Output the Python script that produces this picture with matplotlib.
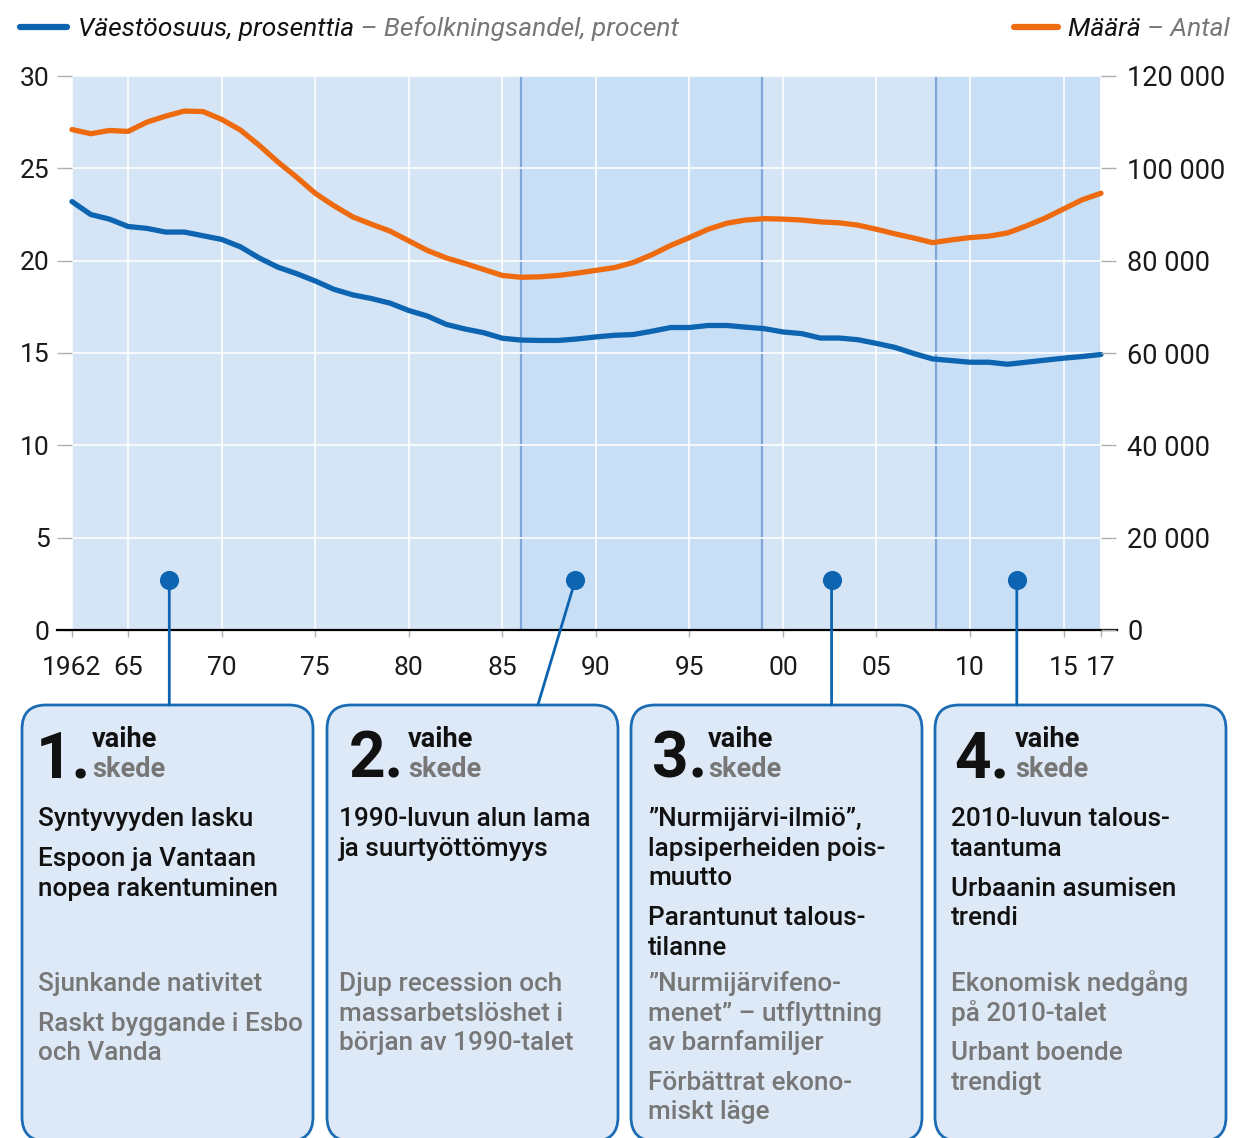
import matplotlib
matplotlib.use("Agg")
import matplotlib.pyplot as plt
from matplotlib.patches import FancyBboxPatch, ConnectionPatch
from matplotlib.ticker import FuncFormatter

# ---------------- data ----------------
years = list(range(1962, 2018))
share_pct = [23.2, 22.5, 22.25, 21.85, 21.75, 21.55, 21.55, 21.35, 21.15, 20.75,
             20.15, 19.65, 19.3, 18.9, 18.45, 18.15, 17.95, 17.7, 17.3, 17.0,
             16.55, 16.3, 16.1, 15.8, 15.7, 15.68, 15.68, 15.76, 15.87, 15.96,
             16.0, 16.18, 16.38, 16.38, 16.49, 16.49, 16.4, 16.32, 16.14, 16.05,
             15.81, 15.81, 15.72, 15.52, 15.3, 14.97, 14.68, 14.59, 14.5, 14.5,
             14.39, 14.5, 14.61, 14.72, 14.81, 14.92]
count = [108400, 107500, 108200, 108000, 110000, 111300, 112400, 112300, 110600, 108300,
         105000, 101400, 98100, 94600, 91900, 89500, 87900, 86400, 84300, 82200,
         80600, 79400, 78100, 76800, 76400, 76500, 76800, 77300, 77900, 78500,
         79600, 81300, 83300, 85000, 86800, 88100, 88800, 89100, 89000, 88800,
         88400, 88200, 87700, 86800, 85800, 84900, 83900, 84500, 85000, 85300,
         86000, 87500, 89200, 91200, 93200, 94600]

x_ticks = [1962, 1965, 1970, 1975, 1980, 1985, 1990, 1995, 2000, 2005, 2010, 2015, 2017]
x_labels = ["1962", "65", "70", "75", "80", "85", "90", "95", "00", "05", "10", "15", "17"]
left_ticks = [0, 5, 10, 15, 20, 25, 30]
right_ticks = [0, 20000, 40000, 60000, 80000, 100000, 120000]

phase_bounds = [1962, 1986, 1998.9, 2008.2, 2017]
phase_marker_year = [1967.2, 1988.9, 2002.6, 2012.5]
phase_connector_year = [1967.2, 1986.9, 2002.6, 2012.5]
marker_level = 2.7

legend_left_fi = "Väestöosuus, prosenttia"
legend_left_sv = " – Befolkningsandel, procent"
legend_right_fi = "Määrä "
legend_right_sv = "– Antal"

phase_numbers = ["1.", "2.", "3.", "4."]
phase_fi_word = "vaihe"
phase_sv_word = "skede"
fi_paragraphs = [
    ["Syntyvyyden lasku", "Espoon ja Vantaan\nnopea rakentuminen"],
    ["1990-luvun alun lama\nja suurtyöttömyys"],
    ["”Nurmijärvi-ilmiö”,\nlapsiperheiden pois-\nmuutto", "Parantunut talous-\ntilanne"],
    ["2010-luvun talous-\ntaantuma", "Urbaanin asumisen\ntrendi"],
]
sv_paragraphs = [
    ["Sjunkande nativitet", "Raskt byggande i Esbo\noch Vanda"],
    ["Djup recession och\nmassarbetslöshet i\nbörjan av 1990-talet"],
    ["”Nurmijärvifeno-\nmenet” – utflyttning\nav barnfamiljer", "Förbättrat ekono-\nmiskt läge"],
    ["Ekonomisk nedgång\npå 2010-talet", "Urbant boende\ntrendigt"],
]

# ---------------- style ----------------
FONT = ["Roboto", "DejaVu Sans"]
plt.rcParams["font.family"] = FONT
BLUE = "#0d64b0"
ORANGE = "#ee6a0e"
SHADE_LIGHT = "#d5e5f6"
SHADE_DARK = "#c9dff5"
BOX_FILL = "#dee9f7"
BOX_EDGE = "#1b6cb5"
PHASE_LINE = "#80a7d8"
GREY = "#777777"
TICKGREY = "#b0b0b0"

W, H = 1235, 1138
fig = plt.figure(figsize=(W / 100, H / 100), dpi=100)
fig.patch.set_facecolor("white")

# overlay in pixel coordinates
ov = fig.add_axes([0, 0, 1, 1], zorder=0)
ov.set_xlim(0, W)
ov.set_ylim(H, 0)
ov.axis("off")
ov.patch.set_visible(False)

x0, x1, ytop, ybot = 72, 1101, 76, 630
ax = fig.add_axes([x0 / W, 1 - ybot / H, (x1 - x0) / W, (ybot - ytop) / H], zorder=2)
ax.patch.set_visible(False)
ax.set_xlim(1962, 2017)
ax.set_ylim(0, 30)

for i in range(4):
    ax.axvspan(phase_bounds[i], phase_bounds[i + 1], ymin=0, ymax=1,
               color=SHADE_LIGHT if i % 2 == 0 else SHADE_DARK, lw=0, zorder=0)
for i in range(1, 4):
    ax.axvline(phase_bounds[i], color=PHASE_LINE, lw=1.6, zorder=1.5)

ax.set_xticks(x_ticks)
ax.set_xticklabels(x_labels)
ax.set_yticks(left_ticks)
ax.grid(True, color="white", lw=1.2, zorder=1)
ax.set_axisbelow(False)
for gl in ax.get_xgridlines() + ax.get_ygridlines():
    gl.set_zorder(1)
for s in ax.spines.values():
    s.set_visible(False)
ax.tick_params(axis="y", length=11, width=1, color=TICKGREY, pad=5,
               labelsize=19, labelcolor="#1a1a1a")
ax.tick_params(axis="x", length=5, width=1, color=TICKGREY, pad=14,
               labelsize=19, labelcolor="#1a1a1a")

ax.plot(years, share_pct, color=BLUE, lw=3.8, solid_capstyle="round",
        solid_joinstyle="round", zorder=3, clip_on=False)
# baseline
ax.plot([-0.0146, 1.0155], [0, 0], transform=ax.get_yaxis_transform(),
        color="black", lw=1.6, clip_on=False, zorder=3)

ax2 = ax.twinx()
ax2.set_ylim(0, 120000)
ax2.set_yticks(right_ticks)
ax2.yaxis.set_major_formatter(FuncFormatter(lambda v, p: f"{int(v):,}".replace(",", " ")))
for s in ax2.spines.values():
    s.set_visible(False)
ax2.tick_params(axis="y", length=11, width=1, color=TICKGREY, pad=8,
                labelsize=19.5, labelcolor="#1a1a1a")
ax2.plot(years, count, color=ORANGE, lw=3.8, solid_capstyle="round",
         solid_joinstyle="round", zorder=3, clip_on=False)

# phase markers + connectors
box_top_frac = (ybot - 705) / (ybot - ytop)
for i in range(4):
    con = ConnectionPatch(xyA=(phase_marker_year[i], marker_level), coordsA=ax.transData,
                          xyB=(phase_connector_year[i], box_top_frac),
                          coordsB=ax.get_xaxis_transform(),
                          color=BLUE, lw=2, zorder=4)
    ax2.add_artist(con)
ax2.scatter(phase_marker_year, [marker_level * 4000] * 4, s=190, color=BLUE,
            zorder=6, clip_on=False, linewidths=0)

# legend
LEG_FS = 19
ov.plot([20, 67], [27, 27], color=BLUE, lw=4.5, solid_capstyle="round")
t1 = ov.text(78, 36, legend_left_fi, fontsize=LEG_FS, style="italic", color="#111111",
             va="baseline", ha="left")
ov.annotate(legend_left_sv, xy=(1, 0), xycoords=t1, fontsize=LEG_FS, style="italic",
            color=GREY, va="bottom", ha="left")
t2 = ov.text(1230, 36, legend_right_sv, fontsize=LEG_FS, style="italic", color=GREY,
             va="baseline", ha="right")
t3 = ov.annotate(legend_right_fi, xy=(0, 0), xycoords=t2, fontsize=LEG_FS, style="italic",
                 color="#111111", va="bottom", ha="right")
ov.plot([1014, 1058], [27, 27], color=ORANGE, lw=4.5, solid_capstyle="round")

# boxes
box_left = [22, 327, 631, 935]
num_x = [36, 349, 652, 954]
word_x = [92, 408, 708, 1015]
text_x = [38, 339, 648, 951]
box_w = 291
for i in range(4):
    bl = box_left[i]
    ov.add_patch(FancyBboxPatch((bl, 705), box_w, 436,
                                boxstyle="round,pad=0,rounding_size=24",
                                fc=BOX_FILL, ec=BOX_EDGE, lw=2))
    ov.text(num_x[i], 777, phase_numbers[i], fontsize=46, fontweight="bold",
            color="#111111", va="baseline", ha="left")
    ov.text(word_x[i], 747, phase_fi_word, fontsize=19.5, fontweight="bold",
            color="#111111", va="baseline", ha="left")
    ov.text(word_x[i], 777, phase_sv_word, fontsize=19.5, fontweight="bold",
            color=GREY, va="baseline", ha="left")
    for paras, y0, col in ((fi_paragraphs[i], 826, "#111111"),
                           (sv_paragraphs[i], 991, GREY)):
        y = y0
        for para in paras:
            for line in para.split("\n"):
                ov.text(text_x[i], y, line, fontsize=18.8, fontweight="medium",
                        color=col, va="baseline", ha="left")
                y += 29.5
            y += 10.5

fig.savefig("out.png", dpi=100, facecolor="white")
